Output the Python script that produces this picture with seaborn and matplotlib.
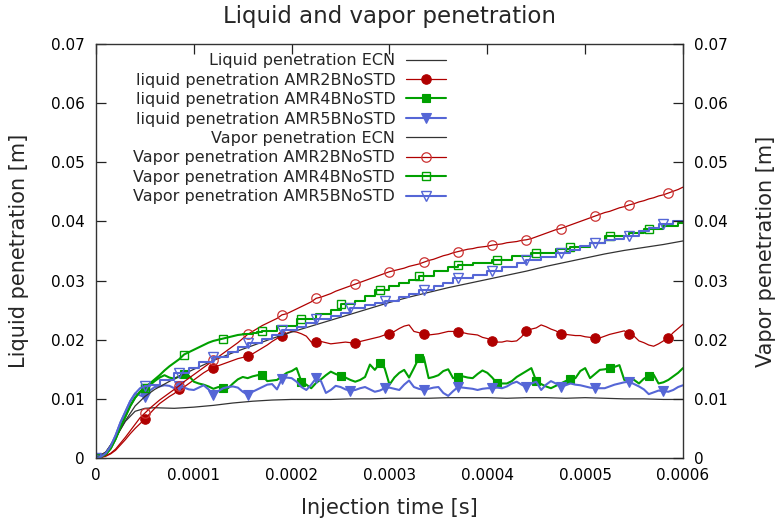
import numpy as np
import pandas as pd
import matplotlib
matplotlib.use("Agg")
import matplotlib.pyplot as plt
import seaborn as sns

# ---------------- data (lengths in mm, times in microseconds) ----------------
t_us = np.arange(0, 605, 5)          # sampling of the AMR simulations
t_ecn_us = [0, 10, 20, 30, 40, 50, 60, 80, 100, 120, 140, 160, 180, 200, 220, 240,
            260, 280, 300, 320, 340, 360, 380, 400, 420, 440, 460, 480, 500, 520,
            540, 560, 580, 600]

liq_ecn = [0.0, 1.0, 3.4, 6.2, 7.9, 8.4, 8.5, 8.4, 8.6, 8.9, 9.3, 9.6, 9.8, 9.9, 9.9, 9.9,
           10.0, 10.0, 10.1, 10.1, 10.1, 10.2, 10.2, 10.2, 10.1, 10.2, 10.2, 10.1, 10.2, 10.1,
           10.0, 10.0, 9.9, 9.9]
vap_ecn = [0.0, 1.0, 3.4, 6.3, 8.8, 10.4, 11.6, 13.4, 15.0, 16.5, 17.8, 19.0, 20.2, 21.3,
           22.3, 23.3, 24.3, 25.3, 26.3, 27.2, 28.0, 28.8, 29.5, 30.2, 30.9, 31.6, 32.4,
           33.1, 33.8, 34.5, 35.1, 35.6, 36.1, 36.7]

liq_amr2 = [0.0, 0.1, 0.3, 0.7, 1.3, 2.2, 3.1, 4.1, 5.0, 5.8,
            6.6, 7.5, 8.4, 9.2, 9.8, 10.4, 10.9, 11.6, 12.0, 12.6,
            13.2, 13.8, 14.4, 14.9, 15.3, 15.6, 15.9, 16.2, 16.5, 16.8,
            17.0, 17.2, 17.6, 18.1, 18.6, 19.1, 19.7, 20.2, 20.7, 21.1,
            21.4, 21.3, 21.0, 20.6, 19.6, 19.6, 19.7, 19.5, 19.3, 19.4,
            19.5, 19.6, 19.5, 19.5, 19.7, 19.9, 20.1, 20.3, 20.5, 20.8,
            21.0, 21.4, 21.9, 22.3, 22.5, 21.4, 21.2, 20.9, 20.8, 20.9,
            21.0, 21.2, 21.4, 21.4, 21.3, 21.2, 21.0, 20.9, 20.8, 20.4,
            20.2, 19.7, 19.6, 19.6, 19.8, 19.7, 19.8, 20.5, 21.5, 21.8,
            22.0, 22.5, 22.2, 21.8, 21.5, 21.0, 20.9, 20.8, 20.7, 20.7,
            20.5, 20.4, 20.3, 20.3, 20.6, 20.9, 21.1, 21.3, 21.5, 21.0,
            20.6, 19.8, 19.5, 19.1, 18.9, 19.3, 19.8, 20.3, 21.2, 21.9,
            22.6]
vap_amr2 = [0.0, 0.1, 0.4, 0.8, 1.5, 2.5, 3.5, 4.6, 5.7, 6.8,
            7.6, 8.4, 9.1, 9.8, 10.4, 11.0, 11.6, 12.2, 12.9, 13.5,
            14.1, 14.7, 15.3, 15.9, 16.6, 17.1, 17.7, 18.3, 18.9, 19.5,
            20.2, 20.9, 21.4, 21.9, 22.4, 22.8, 23.2, 23.6, 24.2, 24.4,
            24.8, 25.2, 25.6, 26.0, 26.4, 27.0, 27.2, 27.5, 27.8, 28.2,
            28.5, 28.8, 29.1, 29.4, 29.7, 30.0, 30.3, 30.6, 30.9, 31.2,
            31.5, 31.7, 31.9, 32.1, 32.4, 32.6, 32.8, 33.1, 33.4, 33.6,
            33.9, 34.2, 34.4, 34.7, 34.9, 35.1, 35.3, 35.4, 35.6, 35.7,
            35.8, 36.0, 36.1, 36.2, 36.4, 36.5, 36.6, 36.8, 36.9, 37.1,
            37.4, 37.7, 38.0, 38.3, 38.6, 38.8, 39.1, 39.4, 39.7, 40.0,
            40.3, 40.6, 40.9, 41.2, 41.5, 41.7, 42.0, 42.3, 42.5, 42.8,
            43.0, 43.3, 43.5, 43.8, 44.0, 44.3, 44.5, 44.8, 45.1, 45.4,
            45.8]

liq_amr4 = [0.0, 0.2, 0.6, 1.6, 3.2, 5.2, 7.0, 8.8, 10.2, 11.2,
            11.8, 12.3, 13.0, 13.6, 14.0, 13.6, 13.4, 13.8, 14.2, 13.9,
            12.9, 12.6, 12.4, 12.1, 11.7, 12.0, 11.9, 11.8, 12.6, 13.3,
            13.7, 13.5, 13.8, 14.0, 14.0, 13.0, 13.1, 13.2, 13.8, 14.4,
            14.7, 15.2, 12.9, 12.4, 11.8, 12.7, 13.3, 14.0, 14.6, 14.2,
            13.9, 13.6, 13.2, 12.9, 13.2, 13.7, 15.8, 14.9, 16.0, 15.2,
            12.4, 13.6, 14.4, 14.9, 13.6, 15.2, 16.9, 17.1, 13.5, 13.7,
            14.0, 14.7, 15.0, 13.5, 13.7, 13.8, 13.6, 13.5, 14.2, 14.8,
            14.4, 13.6, 12.6, 12.6, 12.6, 13.0, 13.7, 14.2, 14.7, 15.2,
            13.0, 12.5, 12.1, 11.8, 12.2, 12.6, 13.0, 13.3, 13.5, 14.7,
            15.2, 13.5, 14.2, 14.9, 15.0, 15.2, 15.4, 15.7, 13.2, 13.2,
            13.2, 12.6, 13.4, 13.9, 14.1, 12.6, 12.8, 13.2, 13.8, 14.4,
            15.2]
vap_amr4 = [0.0, 0.2, 0.6, 1.6, 3.2, 5.2, 7.0, 8.8, 10.2, 11.2,
            11.9, 12.6, 13.3, 14.0, 14.8, 15.5, 16.1, 16.7, 17.5, 17.9,
            18.3, 18.7, 19.1, 19.5, 19.8, 20.0, 20.2, 20.4, 20.6, 20.8,
            20.9, 21.0, 21.1, 21.3, 21.5, 21.5, 21.5, 22.4, 22.4, 22.4,
            22.4, 23.5, 23.5, 23.5, 23.5, 24.3, 24.3, 24.3, 25.0, 25.0,
            26.0, 26.0, 26.0, 26.6, 26.6, 27.4, 27.4, 28.4, 28.4, 28.4,
            29.0, 29.0, 29.6, 29.6, 30.1, 30.1, 30.8, 30.8, 30.8, 31.6,
            31.6, 31.6, 32.3, 32.3, 32.6, 32.6, 32.6, 33.0, 33.0, 33.0,
            33.0, 33.5, 33.5, 33.5, 33.5, 34.1, 34.1, 34.1, 34.1, 34.6,
            34.6, 34.6, 34.6, 34.6, 35.3, 35.3, 35.3, 35.6, 35.6, 35.6,
            35.6, 36.3, 36.3, 36.3, 37.5, 37.5, 37.5, 37.5, 37.5, 38.1,
            38.1, 38.1, 38.7, 38.7, 38.7, 38.7, 39.2, 39.2, 39.2, 39.7,
            39.7]

liq_amr5 = [0.0, 0.2, 0.8, 2.0, 3.8, 6.0, 7.8, 9.6, 10.9, 10.6,
            10.3, 11.4, 12.0, 12.1, 12.3, 12.2, 11.8, 12.1, 11.9, 11.6,
            11.5, 11.9, 12.3, 11.6, 10.7, 11.3, 11.8, 12.0, 12.1, 11.9,
            11.2, 10.7, 11.2, 11.6, 12.0, 12.4, 12.5, 11.6, 13.4, 13.6,
            13.5, 12.9, 12.0, 11.5, 12.4, 13.5, 13.0, 11.0, 11.5, 12.2,
            12.0, 11.6, 11.4, 11.5, 11.8, 12.0, 11.6, 11.2, 11.4, 11.8,
            11.9, 11.7, 11.5, 12.4, 13.1, 12.0, 11.7, 11.5, 11.7, 11.9,
            12.0, 11.0, 10.5, 11.3, 12.0, 11.9, 11.8, 11.7, 11.5, 11.7,
            11.8, 11.8, 11.9, 11.8, 12.1, 12.6, 12.9, 12.4, 12.0, 12.6,
            12.9, 11.5, 12.4, 13.0, 12.6, 12.0, 12.3, 12.6, 12.4, 12.3,
            12.1, 11.9, 11.8, 11.8, 11.8, 12.1, 12.4, 12.6, 12.8, 12.9,
            12.5, 12.1, 11.6, 10.8, 11.1, 11.4, 11.3, 11.2, 11.5, 12.0,
            12.3]
vap_amr5 = [0.0, 0.2, 0.8, 2.0, 3.8, 6.0, 7.8, 9.6, 10.9, 11.8,
            12.1, 12.3, 12.3, 13.2, 13.2, 13.2, 14.4, 14.4, 14.4, 15.3,
            15.3, 16.2, 16.2, 16.2, 17.1, 17.1, 17.1, 18.0, 18.0, 18.8,
            18.8, 19.4, 19.4, 19.4, 20.1, 20.1, 20.8, 20.8, 21.6, 21.6,
            21.6, 22.2, 22.2, 22.8, 22.8, 23.5, 23.5, 23.5, 24.0, 24.0,
            24.6, 24.6, 25.3, 25.3, 25.3, 25.8, 25.8, 26.2, 26.2, 26.6,
            26.6, 26.6, 27.3, 27.3, 27.8, 27.8, 28.4, 28.4, 28.4, 29.0,
            29.0, 29.6, 29.6, 30.4, 30.4, 30.4, 30.4, 31.0, 31.0, 31.0,
            31.6, 31.6, 31.6, 32.3, 32.3, 32.3, 33.0, 33.0, 33.5, 33.5,
            33.5, 34.0, 34.0, 34.0, 34.6, 34.6, 34.6, 35.2, 35.2, 35.8,
            35.8, 36.4, 36.4, 36.4, 36.8, 36.8, 37.1, 37.1, 37.5, 37.5,
            37.5, 38.3, 38.3, 38.9, 38.9, 39.5, 39.5, 39.5, 40.1, 40.1,
            40.1]

labels = ["Liquid penetration ECN", "liquid penetration AMR2BNoSTD",
          "liquid penetration AMR4BNoSTD", "liquid penetration AMR5BNoSTD",
          "Vapor penetration ECN", "Vapor penetration AMR2BNoSTD",
          "Vapor penetration AMR4BNoSTD", "Vapor penetration AMR5BNoSTD"]
x_ticks = [0, 0.0001, 0.0002, 0.0003, 0.0004, 0.0005, 0.0006]
x_tick_labels = ["0", "0.0001", "0.0002", "0.0003", "0.0004", "0.0005", "0.0006"]
y_ticks = [0, 0.01, 0.02, 0.03, 0.04, 0.05, 0.06, 0.07]
y_tick_labels = ["0", "0.01", "0.02", "0.03", "0.04", "0.05", "0.06", "0.07"]

# ---------------- style ----------------
sns.set_theme(style="white")
plt.rcParams["font.family"] = ["DejaVu Sans"]

RED, GREEN, BLUE, BLACK = "#b00000", "#00a000", "#5566d6", "#333333"
DT = 5.0


def mark_idx(first, spacing):
    times = np.concatenate([[0.0], np.arange(first, 600.0, spacing)])
    return list(np.rint(times / DT).astype(int))


mk_amr2 = mark_idx(49.0, 35.6)
mk_amr4 = mark_idx(52.5, 39.5)
mk_amr5 = mark_idx(48.0, 35.6)

fig = plt.figure(figsize=(7.79, 5.22), dpi=100)
ax = fig.add_axes([96 / 779, 1 - 458 / 522, 587 / 779, 414 / 522])

ts = t_us * 1e-6
te = np.array(t_ecn_us) * 1e-6


def draw(x, y_mm, lab, kw, step_from=None):
    x = np.asarray(x)
    y = np.asarray(y_mm) * 1e-3
    if step_from is None:
        df = pd.DataFrame({"t": x, "L": y})
        sns.lineplot(data=df, x="t", y="L", ax=ax, label=lab, estimator=None, sort=False, **kw)
        return
    k = step_from
    mk = kw.pop("markevery")
    # smooth early part (no stair visible in the sampling)
    kw_a = dict(kw)
    kw_a["markevery"] = [i for i in mk if i < k]
    dfa = pd.DataFrame({"t": x[:k + 1], "L": y[:k + 1]})
    sns.lineplot(data=dfa, x="t", y="L", ax=ax, label="_nolegend_", estimator=None,
                 sort=False, **kw_a)
    # AMR cell-size stairs
    kw_b = dict(kw)
    kw_b["markevery"] = [i - k for i in mk if i >= k]
    kw_b["drawstyle"] = "steps-post"
    dfb = pd.DataFrame({"t": x[k:], "L": y[k:]})
    sns.lineplot(data=dfb, x="t", y="L", ax=ax, label=lab, estimator=None, sort=False, **kw_b)


draw(te, liq_ecn, labels[0], dict(color=BLACK, lw=0.9))
draw(ts, liq_amr2, labels[1], dict(color=RED, lw=0.9, marker="o", ms=6.8, mfc=RED, mec=RED,
                                   mew=0.8, markevery=mk_amr2))
draw(ts, liq_amr4, labels[2], dict(color=GREEN, lw=1.5, marker="s", ms=6.3, mfc=GREEN, mec=GREEN,
                                   mew=0.8, markevery=mk_amr4))
draw(ts, liq_amr5, labels[3], dict(color=BLUE, lw=1.5, marker="v", ms=7.5, mfc=BLUE, mec=BLUE,
                                   mew=0.8, markevery=mk_amr5))
draw(te, vap_ecn, labels[4], dict(color=BLACK, lw=0.9))
draw(ts, vap_amr2, labels[5], dict(color=RED, lw=0.9, marker="o", ms=6.8, mfc="none",
                                   mec="#cc3333", mew=0.9, markevery=mk_amr2))
draw(ts, vap_amr4, labels[6], dict(color=GREEN, lw=1.5, marker="s", ms=6.3, mfc="none",
                                   mec=GREEN, mew=1.0, markevery=mk_amr4), step_from=30)
draw(ts, vap_amr5, labels[7], dict(color=BLUE, lw=1.5, marker="v", ms=7.5, mfc="none",
                                   mec=BLUE, mew=1.0, markevery=mk_amr5), step_from=10)

ax.set_xlim(0, 0.0006)
ax.set_ylim(0, 0.07)
ax.set_xticks(x_ticks, x_tick_labels)
ax.set_yticks(y_ticks, y_tick_labels)
ax.tick_params(axis="both", direction="in", length=7, width=0.9, labelsize=11,
               colors="#222222", labelcolor="black", top=True, right=False, pad=8)
ax.tick_params(axis="x", pad=7)
for s in ax.spines.values():
    s.set_color("#333333")
    s.set_linewidth(1.0)

ax.set_xlabel("Injection time [s]", fontsize=15, labelpad=11)
ax.set_ylabel("Liquid penetration [m]", fontsize=15, labelpad=16)
ax.set_title("Liquid and vapor penetration", fontsize=16.5, pad=15)

ax2 = ax.twinx()
ax2.set_ylim(0, 0.07)
ax2.set_yticks(y_ticks, y_tick_labels)
ax2.tick_params(axis="y", direction="in", length=7, width=0.9, labelsize=11,
                colors="#222222", labelcolor="black", pad=8)
ax2.set_ylabel("Vapor penetration [m]", fontsize=15, labelpad=20)
for s in ax2.spines.values():
    s.set_visible(False)

handles, labs = ax.get_legend_handles_labels()
leg = ax.legend(handles, labs, loc="upper right", bbox_to_anchor=(0.597, 0.978),
                markerfirst=False, frameon=False, fontsize=11.5, handlelength=2.55,
                handletextpad=0.65, labelspacing=0.28, borderpad=0, borderaxespad=0)

fig.savefig("out.png", dpi=100)
